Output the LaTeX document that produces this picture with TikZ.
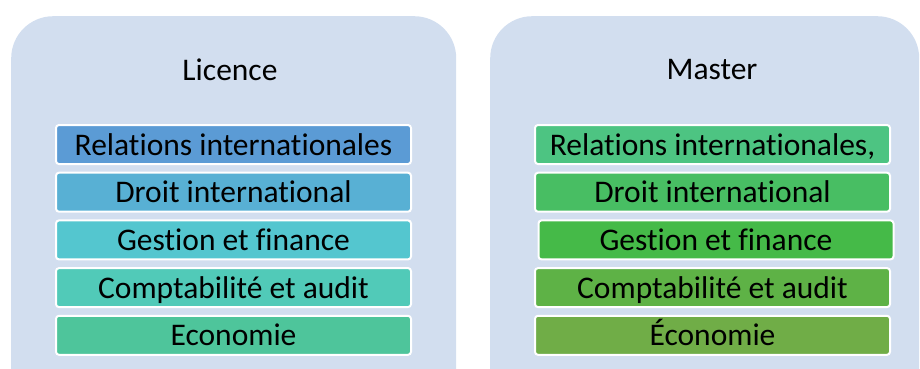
\documentclass[tikz,border=0pt]{standalone}
\usepackage{fontspec}
\setmainfont{Carlito}[Ligatures=NoCommon]
\usetikzlibrary{positioning}
\definecolor{panelColor}{HTML}{D2DEEF}
\definecolor{licA}{HTML}{5B9BD5}
\definecolor{licB}{HTML}{58B0D4}
\definecolor{licC}{HTML}{54C6CF}
\definecolor{licD}{HTML}{51CAB8}
\definecolor{licE}{HTML}{4EC59B}
\definecolor{masA}{HTML}{4DC482}
\definecolor{masB}{HTML}{48BE63}
\definecolor{masC}{HTML}{45BA48}
\definecolor{masD}{HTML}{5EB246}
\definecolor{masE}{HTML}{70AD47}
\tikzstyle{panel} = [rectangle, rounded corners=42pt,
minimum width=445pt,
minimum height=420pt,
anchor=north west,
draw=none,
fill=panelColor]
\tikzstyle{title} = [font=\fontsize{31.5}{38}\selectfont]
\tikzstyle{item} = [rectangle, rounded corners=3pt,
minimum width=355pt,
minimum height=39pt,
inner sep=0pt,
text height=21pt,
text depth=0pt,
draw=white, line width=2pt,
font=\fontsize{31.5}{38}\selectfont]

\begin{document}
\begin{tikzpicture}[x=1pt,y=-1pt,node distance=6.7pt]
    \useasboundingbox (0,0) rectangle (920,368);
    \clip (0,0) rectangle (920,368);
    % Panels
    \node[panel] (licPanel) at (11,16) {};
    \node[panel, minimum width=429pt] (masPanel) at (490,16) {};

    % Titles
    \node[title] (licTitle) at (230,70) {Licence};
    \node[title] (masTitle) at (712,70) {Master};

    % Licence
    \node[item, fill=licA] (licRel) at (233.5,144.5) {Relations internationales};
    \node[item, fill=licB, below=of licRel] (licDroit) {Droit international};
    \node[item, fill=licC, below=of licDroit] (licGest) {Gestion et finance};
    \node[item, fill=licD, below=of licGest] (licCompta) {Comptabilité et audit};
    \node[item, fill=licE, below=of licCompta] (licEco) {Economie};

    % Master
    \node[item, fill=masA] (masRel) at (712.5,144.5) {Relations internationales,};
    \node[item, fill=masB, below=of masRel] (masDroit) {Droit international};
    \node[item, fill=masC, below=of masDroit, xshift=3.5pt] (masGest) {Gestion et finance};
    \node[item, fill=masD, below=of masGest, xshift=-3.5pt] (masCompta) {Comptabilité et audit};
    \node[item, fill=masE, below=of masCompta] (masEco) {Économie};
\end{tikzpicture}
\end{document}
